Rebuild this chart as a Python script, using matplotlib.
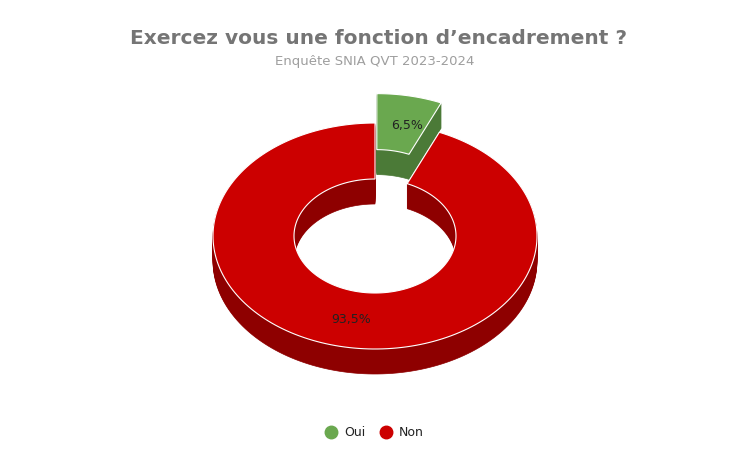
import numpy as np
import matplotlib
matplotlib.use('Agg')
from matplotlib import pyplot as plt
from matplotlib.patches import Polygon

labels = ['Oui', 'Non']
values = [6.5, 93.5]
colors = ['#6aa84f', '#cc0000']
side_colors = ['#4b7a37', '#8e0000']
pct_labels = ['6,5%', '93,5%']
explode = [30, 0]

title = 'Exercez vous une fonction d\u2019encadrement ?'
subtitle = 'Enquête SNIA QVT 2023-2024'

# geometry in pixels
cx, cy = 375, 237
rx, ry = 162, 113
irx, iry = 81, 57
depth = 25

fig = plt.figure(figsize=(7.51, 4.64), dpi=100)
ax = fig.add_axes([0, 0, 1, 1])
ax.set_xlim(0, 751)
ax.set_ylim(464, 0)
ax.axis('off')


def slice_poly(a0, a1, ox, oy):
    t = np.linspace(a0, a1, 200)
    xo = cx + ox + rx * np.sin(t)
    yo = cy + oy - ry * np.cos(t)
    xi = cx + ox + irx * np.sin(t[::-1])
    yi = cy + oy - iry * np.cos(t[::-1])
    return np.column_stack([np.r_[xo, xi], np.r_[yo, yi]])


total = sum(values)
starts = np.cumsum([0] + values[:-1]) / total * 2 * np.pi
ends = np.cumsum(values) / total * 2 * np.pi

for i in range(len(values)):
    a0, a1 = starts[i], ends[i]
    mid = (a0 + a1) / 2
    ox = explode[i] * np.sin(mid) * 0.3
    oy = -explode[i] * np.cos(mid)
    for d in range(depth, 0, -1):
        ax.add_patch(Polygon(slice_poly(a0, a1, ox, oy + d), closed=True,
                             fc=side_colors[i], ec=side_colors[i], lw=0.5))
    ax.add_patch(Polygon(slice_poly(a0, a1, ox, oy), closed=True,
                         fc=colors[i], ec='white', lw=0.8))

ax.text(407, 125, pct_labels[0], ha='center', va='center', fontsize=9, color='#222222')
ax.text(351, 320, pct_labels[1], ha='center', va='center', fontsize=9, color='#222222')

ax.text(379, 38, title, ha='center', va='center', fontsize=14.5,
        fontweight='bold', color='#757575')
ax.text(375, 62, subtitle, ha='center', va='center', fontsize=9.5, color='#9e9e9e')

ax.plot([331], [433], 'o', ms=9, color=colors[0])
ax.text(344, 433, labels[0], va='center', fontsize=9, color='#222222')
ax.plot([386], [433], 'o', ms=9, color=colors[1])
ax.text(399, 433, labels[1], va='center', fontsize=9, color='#222222')

fig.savefig('out.png', dpi=100)
